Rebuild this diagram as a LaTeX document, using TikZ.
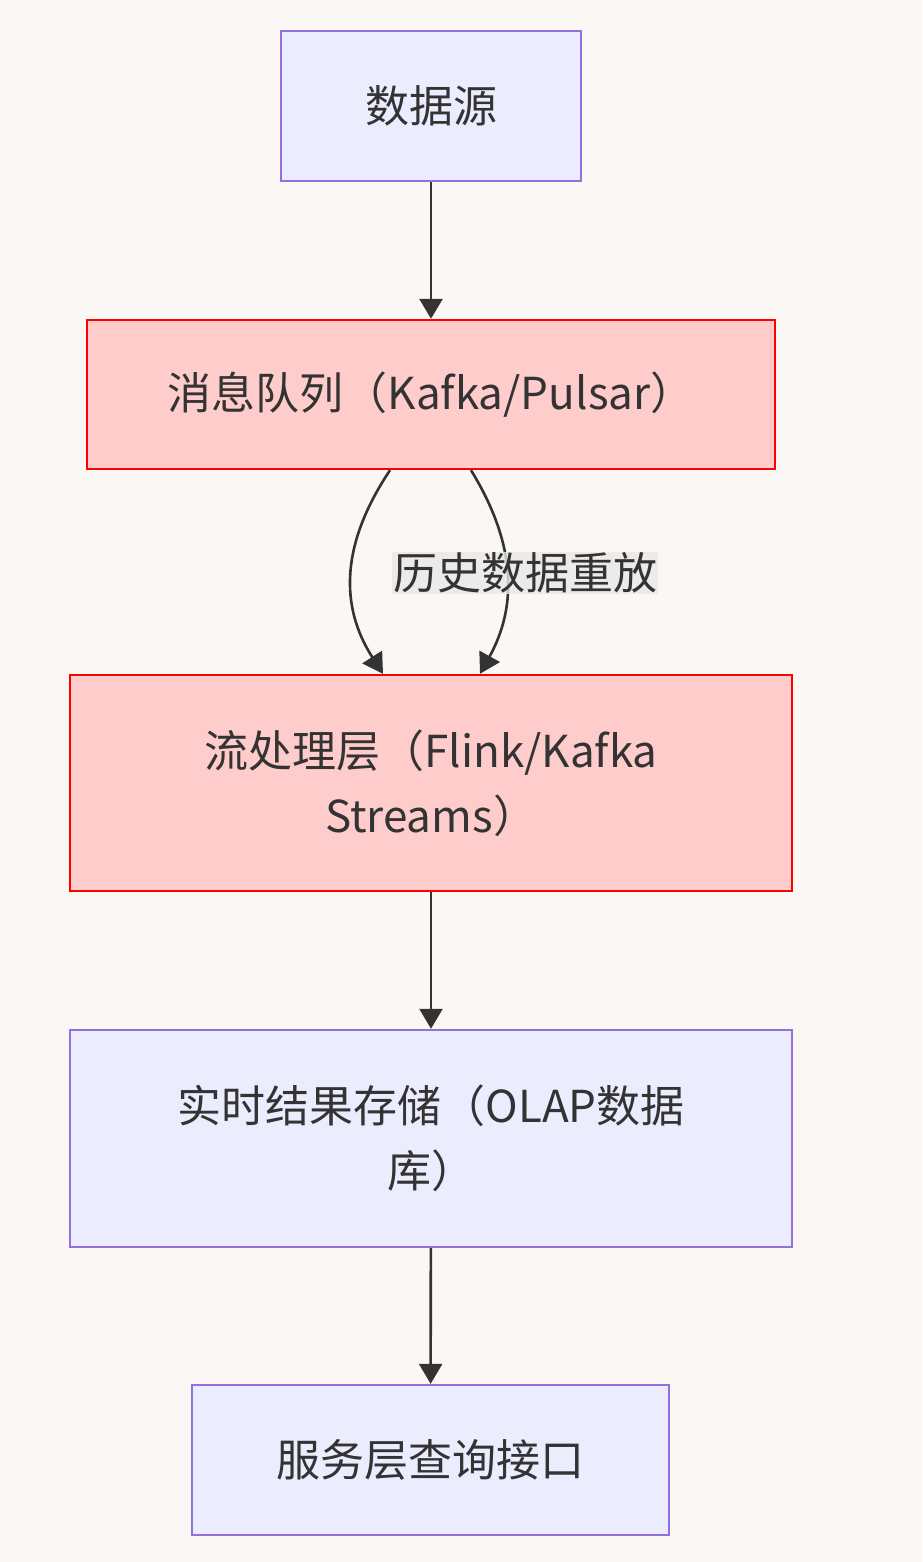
\documentclass[tikz,border=0pt]{standalone}
\usepackage{fontspec}
\setmainfont{Noto Sans CJK SC}
\usetikzlibrary{arrows.meta}
\definecolor{bgpaper}{HTML}{FAF7F4}
\definecolor{boxblue}{HTML}{ECECFF}
\definecolor{edgeblue}{HTML}{9370DB}
\definecolor{boxred}{HTML}{FFCCCC}
\definecolor{edgered}{HTML}{FF0000}
\definecolor{inkgray}{HTML}{333333}
\definecolor{labelgray}{HTML}{E8E8E8}
\tikzset{
    basebox/.style={draw,line width=2.4pt,text=inkgray,align=center,inner sep=0pt,
        font=\fontsize{44}{65}\selectfont},
    bluebox/.style={basebox,fill=boxblue,draw=edgeblue},
    redbox/.style={basebox,fill=boxred,draw=edgered},
    flow/.style={draw=inkgray,line width=2.6pt,-{Triangle[length=20pt,width=23pt]}},
    flowlabel/.style={fill=labelgray,fill opacity=0.8,text opacity=1,text=inkgray,
        inner sep=1pt,font=\fontsize{44}{54}\selectfont}
}
\begin{document}
\begin{tikzpicture}[x=1pt,y=-1pt]
    \useasboundingbox[fill=bgpaper] (0,0) rectangle (922,1562);
    \node[bluebox,minimum width=300pt,minimum height=150pt] (src) at (431,106) {数据源};
    \node[redbox,minimum width=688pt,minimum height=149pt] (mq) at (431,394.5) {消息队列（Kafka/Pulsar）};
    \node[redbox,minimum width=722pt,minimum height=216pt] (sp) at (431,783) {流处理层（Flink/Kafka\\Streams）};
    \node[bluebox,minimum width=722pt,minimum height=217pt] (store) at (431,1138.5) {实时结果存储（OLAP数据\\库）};
    \node[bluebox,minimum width=477pt,minimum height=150pt] (svc) at (430.5,1460) {服务层查询接口};

    \draw[flow] (src) -- (mq);
    \draw[flow] ([xshift=-41pt]mq.south) .. controls (340,545) and (340,607) .. ([xshift=-48pt]sp.north);
    \draw[flow] ([xshift=40pt]mq.south) .. controls (517,545) and (517,607) .. ([xshift=49pt]sp.north);
    \node[flowlabel] (replay) at (525,573) {历史数据重放};
    \draw[flow] (sp) -- (store);
    \draw[flow] (store) -- (svc);
\end{tikzpicture}
\end{document}
